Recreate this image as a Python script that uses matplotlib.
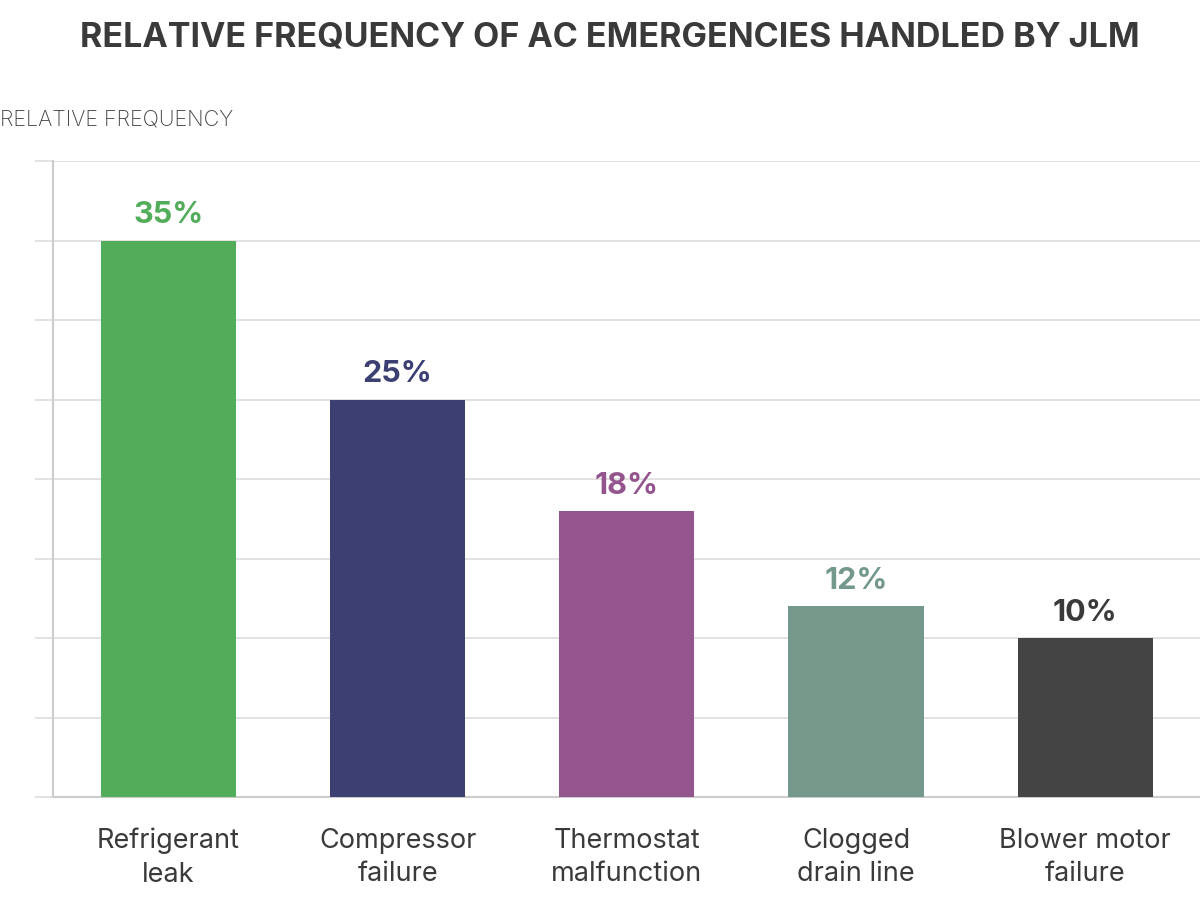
import matplotlib
matplotlib.use("Agg")
import matplotlib.pyplot as plt

categories = ["Refrigerant\nleak", "Compressor\nfailure", "Thermostat\nmalfunction",
              "Clogged\ndrain line", "Blower motor\nfailure"]
values = [35, 25, 18, 12, 10]
value_labels = ["35%", "25%", "18%", "12%", "10%"]
bar_colors = ["#52ad5a", "#3c3f72", "#94548d", "#74988a", "#444444"]
label_colors = ["#52ad5a", "#3c3f72", "#94548d", "#74988a", "#3a3a3a"]
yticks = [0, 5, 10, 15, 20, 25, 30, 35, 40]

plt.rcParams['font.family'] = ['Inter', 'DejaVu Sans']

fig = plt.figure(figsize=(12, 9), dpi=100)
ax = fig.add_axes([53/1200, 103/900, 1 - 53/1200, 636/900])

x = list(range(len(categories)))
ax.bar(x, values, width=0.59, color=bar_colors, zorder=3)
ax.set_xlim(-0.503, 4.5)
ax.set_ylim(0, 40)
ax.set_yticks(yticks)
ax.set_yticklabels([])
ax.yaxis.grid(True, color="#dddddd", linewidth=1.2, zorder=0)
ax.tick_params(axis='y', length=13, color="#dddddd", width=1.2)
ax.tick_params(axis='x', length=0, pad=22)
ax.set_xticks(x)
ax.set_xticklabels(categories, fontsize=19.5, color="#3a3a3a", linespacing=1.38)
for s in ["top", "right"]:
    ax.spines[s].set_visible(False)
for s in ["left", "bottom"]:
    ax.spines[s].set_color("#cccccc")
    ax.spines[s].set_linewidth(1.5)

for xi, v, lab, c in zip(x, values, value_labels, label_colors):
    ax.annotate(lab, (xi, v), xytext=(0, 8), textcoords="offset points",
                ha="center", va="bottom", fontsize=22, fontweight="bold", color=c)

fig.text(0.508, 0.958, "RELATIVE FREQUENCY OF AC EMERGENCIES HANDLED BY JLM",
         ha="center", va="center", fontsize=24.5, fontweight="bold", color="#3a3a3a")
fig.text(0.0, 0.867, "RELATIVE FREQUENCY", ha="left", va="center",
         fontsize=15.5, color="#444444", fontweight="light")

fig.savefig("out.png", dpi=100)
